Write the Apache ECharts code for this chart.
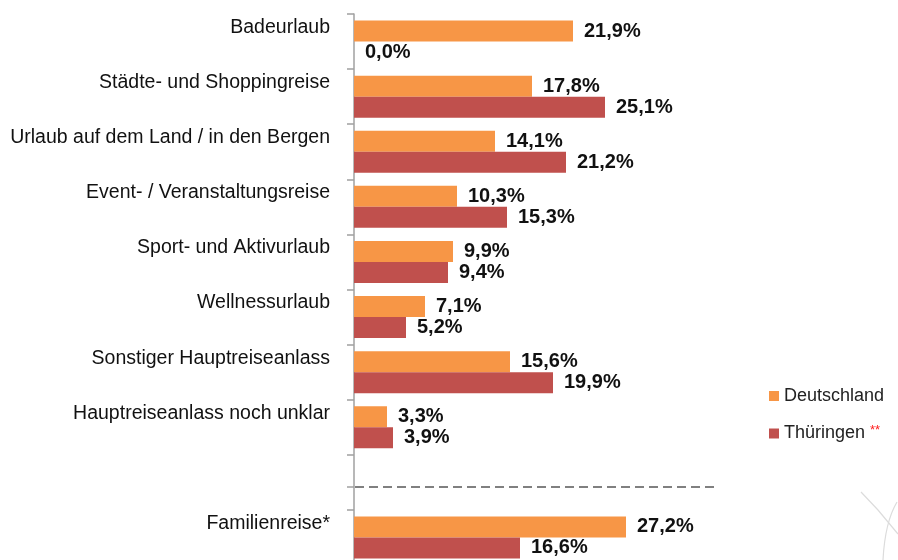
<!DOCTYPE html>
<html>
<head>
<meta charset="utf-8">
<script src="https://cdn.jsdelivr.net/npm/echarts@6/dist/echarts.min.js"></script>
<style>
  html, body { margin: 0; padding: 0; background: #fff; }
  #chart { width: 898px; height: 560px; }
</style>
</head>
<body>
<div id="chart"></div>
<script>
// Reiseanlässe: Deutschland vs. Thüringen (Anteile in %)
const categories = [
  'Badeurlaub',
  'Städte- und Shoppingreise',
  'Urlaub auf dem Land / in den Bergen',
  'Event- / Veranstaltungsreise',
  'Sport- und Aktivurlaub',
  'Wellnessurlaub',
  'Sonstiger Hauptreiseanlass',
  'Hauptreiseanlass noch unklar',
  '',
  'Familienreise*'
];
const deutschland = [21.9, 17.8, 14.1, 10.3, 9.9, 7.1, 15.6, 3.3, null, 27.2];
const thueringen  = [0.0, 25.1, 21.2, 15.3, 9.4, 5.2, 19.9, 3.9, null, 16.6];
const seriesNames = ['Deutschland', 'Thüringen'];
const separatorIndex = 8; // empty row that holds the dashed divider

const FONT = 'Arial, "Liberation Sans", sans-serif';
const AXIS_GREY = '#a0a0a0';
const fmtPct = v => v.toFixed(1).replace('.', ',') + '%';

const chart = echarts.init(document.getElementById('chart'));

const valueLabel = {
  show: true,
  position: 'right',
  distance: 11,
  fontFamily: FONT,
  fontSize: 20,
  fontWeight: 'bold',
  color: '#111',
  formatter: p => (p.value == null ? '' : fmtPct(p.value))
};

chart.setOption({
  animation: false,
  backgroundColor: '#fff',
  grid: {
    left: 354, top: 14, width: 364, height: 551,
    containLabel: false,
    outerBoundsMode: 'none'
  },
  xAxis: { type: 'value', min: 0, max: 36.4, show: false },
  yAxis: {
    type: 'category',
    data: categories,
    inverse: true,
    axisLine: { show: true, lineStyle: { color: AXIS_GREY, width: 1.5 } },
    axisTick: { show: true, length: 7, alignWithLabel: false, lineStyle: { color: AXIS_GREY, width: 1.5 } },
    axisLabel: {
      interval: 0,
      showMinLabel: true,
      showMaxLabel: true,
      hideOverlap: false,
      margin: 24,
      fontFamily: FONT,
      fontSize: 19.5,
      color: '#111',
      lineHeight: 28,
      formatter: v => v + '\n '
    }
  },
  legend: {
    orient: 'vertical',
    left: 764,
    top: 382,
    icon: 'rect',
    itemWidth: 10,
    itemHeight: 10,
    itemGap: 19,
    data: seriesNames,
    textStyle: {
      fontFamily: FONT,
      fontSize: 18,
      color: '#222',
      rich: { s: { color: '#ff2020', fontSize: 13, padding: [0, 0, 6, 0] } }
    },
    formatter: name => (name === 'Thüringen' ? name + ' {s|**}' : name)
  },
  series: [
    {
      name: seriesNames[0],
      type: 'bar',
      data: deutschland,
      barWidth: 21,
      barGap: '0%',
      itemStyle: { color: '#F79646' },
      label: valueLabel
    },
    {
      name: seriesNames[1],
      type: 'bar',
      data: thueringen,
      barWidth: 21,
      itemStyle: { color: '#C0504D' },
      label: valueLabel
    }
  ]
});

// Dashed divider inside the empty row, positioned through the axes' own scales
const yA = chart.convertToPixel({ yAxisIndex: 0 }, separatorIndex);
const yB = chart.convertToPixel({ yAxisIndex: 0 }, separatorIndex + 1);
const yDiv = Math.round(yA + (yB - yA) * 0.09);
const x0 = chart.convertToPixel({ xAxisIndex: 0 }, 0);
const x1 = chart.convertToPixel({ xAxisIndex: 0 }, 36.4);

chart.setOption({
  graphic: [
    {
      type: 'line', silent: true,
      shape: { x1: x0 - 7, y1: yDiv, x2: x0, y2: yDiv },
      style: { stroke: AXIS_GREY, lineWidth: 1.5 }
    },
    {
      type: 'line', silent: true,
      shape: { x1: x0 + 1, y1: yDiv, x2: x1, y2: yDiv },
      style: { stroke: '#808080', lineWidth: 2, lineDash: [9, 5] }
    },
    // faint pen strokes in the lower right corner
    {
      type: 'polyline', silent: true,
      shape: { points: [[861, 492], [878, 510], [898, 534]] },
      style: { stroke: '#dcdcdc', lineWidth: 1.2, fill: null }
    },
    {
      type: 'bezierCurve', silent: true,
      shape: { x1: 897, y1: 502, x2: 883, y2: 560, cpx1: 885, cpy1: 522 },
      style: { stroke: '#dcdcdc', lineWidth: 1.2, fill: null }
    }
  ]
});
</script>
</body>
</html>
